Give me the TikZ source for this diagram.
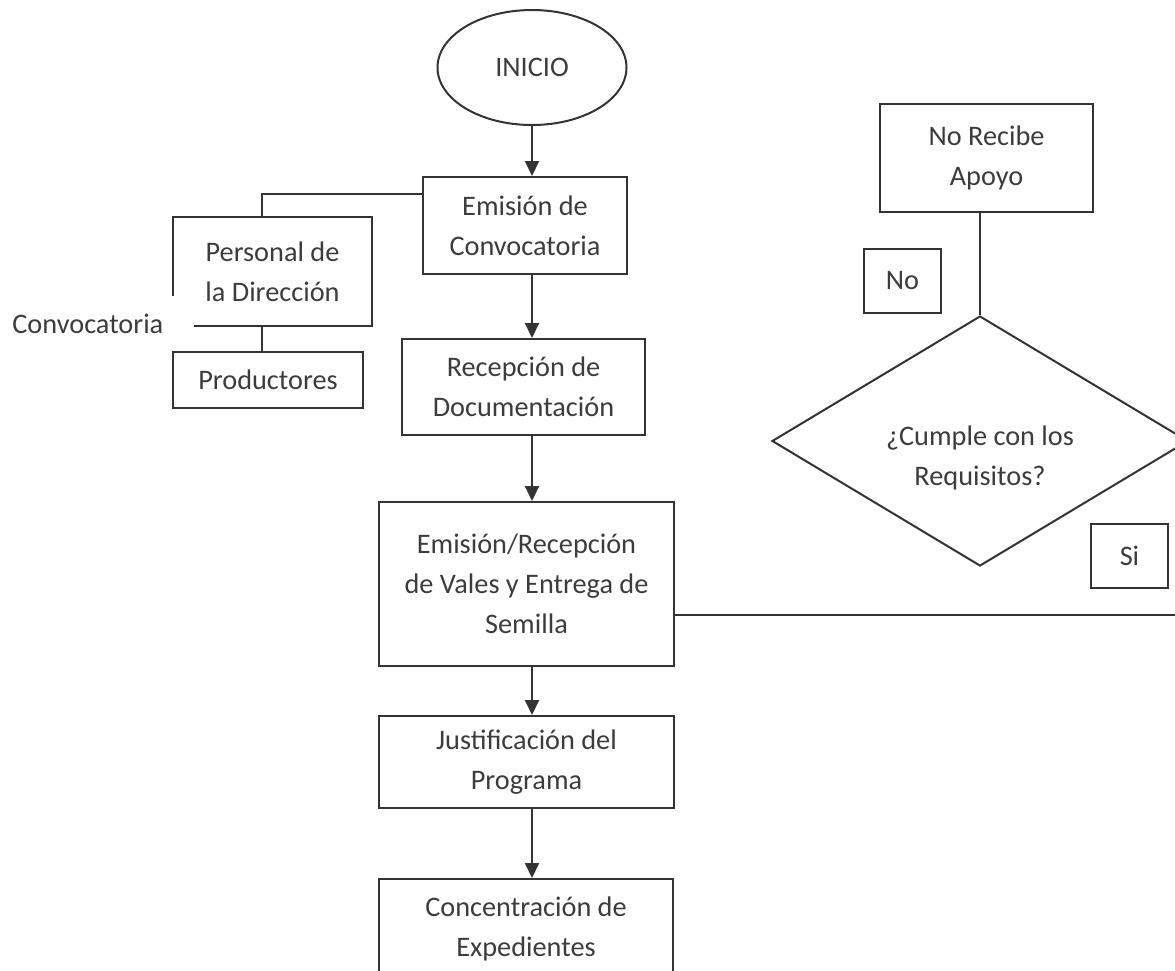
\documentclass[tikz,border=0pt]{standalone}
\usepackage{fontspec}
\setmainfont{Carlito}
\usetikzlibrary{shapes.geometric,arrows.meta}
\definecolor{ink}{HTML}{333333}
\definecolor{texto}{HTML}{3C3C3C}
\tikzset{
  caja/.style={draw=ink, line width=1pt, text=texto, align=center, inner sep=0pt},
  linea/.style={draw=ink, line width=1pt},
  flecha/.style={linea, -{Triangle[width=7pt,length=7.5pt]}},
}
\begin{document}
\begin{tikzpicture}[x=0.5pt, y=-0.5pt, font=\fontsize{14.15pt}{20pt}\selectfont]
        %% fixed page, one unit is one pixel of the scan
        \useasboundingbox (0,0) rectangle (1175,971);
        %% main column
        \node (inicio) [caja, ellipse, minimum width=94.5pt, minimum height=57.5pt] at (532,67.5) {INICIO};
        \node (emision) [caja, minimum width=102pt, minimum height=48.5pt] at (525,225.5) {Emisión de\\Convocatoria};
        \node (recepcion) [caja, minimum width=121.5pt, minimum height=48pt] at (523.5,387) {Recepción de\\Documentación};
        \node (vales) [caja, minimum width=147.5pt, minimum height=82pt] at (526.5,584) {Emisión/Recepción\\de Vales y Entrega de\\Semilla};
        \node (justif) [caja, minimum width=147.5pt, minimum height=46pt] at (526.5,762) {Justificación del\\Programa};
        \node (concent) [caja, minimum width=147pt, minimum height=50pt] at (526,929) {Concentración de\\Expedientes};
        %% left branch
        \node (personal) [caja, minimum width=99.5pt, minimum height=54.5pt] at (272.5,271.5) {Personal de\\la Dirección};
        \node (productores) [caja, minimum width=95pt, minimum height=28pt] at (268,380) {Productores};
        %% white label box lies over the left edges of the two boxes
        \node (conv) [fill=white, text=texto, text width=85pt, align=left, inner xsep=6pt, inner ysep=0pt, minimum height=27.5pt, anchor=north west] at (0,296) {Convocatoria};
        %% right branch
        \node (norecibe) [caja, minimum width=106.5pt, minimum height=54pt] at (986.5,158) {No Recibe\\Apoyo};
        %% the strut pushes the question a little below the middle
        \node (cumple) [caja, diamond, aspect=1.66, minimum width=208pt, minimum height=125pt] at (980,441) {\rule{0pt}{26.5pt}¿Cumple con los\\Requisitos?};
        \node (no) [caja, minimum width=38.5pt, minimum height=32pt] at (902.5,281) {No};
        \node (si) [caja, minimum width=38.5pt, minimum height=32pt] at (1129.5,556) {Si};
        \coordinate (split) at (262,194);
        \coordinate (borde) at (1185,615);
        %% arrows down the column
        \draw[flecha] (inicio.south) -- (inicio.south |- emision.north);
        \draw[flecha] (emision.south -| inicio) -- (recepcion.north -| inicio);
        \draw[flecha] (recepcion.south -| inicio) -- (vales.north -| inicio);
        \draw[flecha] (vales.south -| inicio) -- (justif.north -| inicio);
        \draw[flecha] (justif.south -| inicio) -- (concent.north -| inicio);
        %% plain connectors
        \draw[linea] (emision.west |- split) -- (split) -- (split |- personal.north);
        \draw[linea] (split |- personal.south) -- (split |- productores.north);
        \draw[linea] (cumple.north |- norecibe.south) -- (cumple.north);
        \draw[linea] (vales.east |- borde) -- (borde);
\end{tikzpicture}
\end{document}
